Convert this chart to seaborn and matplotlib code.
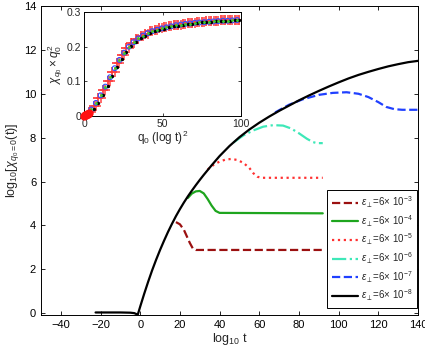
import numpy as np
import matplotlib
matplotlib.use("Agg")
import matplotlib.pyplot as plt
import seaborn as sns

# main panel curves
t_black = [-22.5, -10, -5, -3, -2, -1.2, 0, 2, 4, 6, 8, 10, 12, 14, 16, 18, 20, 22, 24, 26, 28,
           30, 32, 36, 40, 45, 50, 55, 60, 65, 70, 75, 80, 85, 90, 95, 100, 105, 110, 115,
           120, 125, 130, 135, 140]
chi_black = [0.03, 0.03, 0.02, 0.0, -0.04, -0.06, 0.3, 0.88, 1.43, 1.95, 2.43, 2.88, 3.3, 3.7,
             4.07, 4.42, 4.74, 5.04, 5.32, 5.58, 5.83, 6.07, 6.3, 6.74, 7.16, 7.62, 8.02, 8.37,
             8.68, 8.96, 9.22, 9.46, 9.7, 9.92, 10.13, 10.33, 10.52, 10.7, 10.86, 11.0, 11.13,
             11.25, 11.35, 11.44, 11.5]

t_e3 = [18, 20, 22, 23.5, 25, 26.5, 28, 92]
chi_e3 = [4.15, 4.05, 3.8, 3.5, 3.2, 2.95, 2.88, 2.88]

t_e4 = [24, 26, 28, 30, 32, 34, 36, 38, 40, 92]
chi_e4 = [5.25, 5.45, 5.55, 5.57, 5.46, 5.2, 4.9, 4.66, 4.57, 4.55]

t_e5 = [34, 37, 40, 43, 46, 49, 52, 55, 57, 59, 61, 92]
chi_e5 = [6.55, 6.76, 6.91, 7.0, 7.03, 6.98, 6.85, 6.62, 6.38, 6.22, 6.17, 6.17]

t_e6 = [47, 52, 57, 62, 67, 72, 76, 80, 84, 87, 89, 92]
chi_e6 = [7.78, 8.1, 8.33, 8.5, 8.57, 8.55, 8.42, 8.2, 7.95, 7.8, 7.75, 7.75]

t_e7 = [68, 75, 82, 90, 97, 104, 110, 115, 120, 124, 128, 132, 140]
chi_e7 = [9.15, 9.5, 9.75, 9.95, 10.04, 10.07, 10.0, 9.85, 9.62, 9.4, 9.3, 9.27, 9.27]

eps_labels = [r'$\varepsilon_{\perp}$=6$\times$ 10$^{-3}$',
              r'$\varepsilon_{\perp}$=6$\times$ 10$^{-4}$',
              r'$\varepsilon_{\perp}$=6$\times$ 10$^{-5}$',
              r'$\varepsilon_{\perp}$=6$\times$ 10$^{-6}$',
              r'$\varepsilon_{\perp}$=6$\times$ 10$^{-7}$',
              r'$\varepsilon_{\perp}$=6$\times$ 10$^{-8}$']

# inset: collapsed curves
q_a = [0, 3, 6, 9, 12, 15, 18, 21, 24, 27, 30, 33, 36, 39, 42, 45, 48, 51, 54, 57, 60,
       63, 66, 69, 72, 75, 78, 81, 84, 87, 90, 93, 96, 99]
chi_red = [0.0, 0.013, 0.03, 0.051, 0.075, 0.101, 0.128, 0.154, 0.177, 0.196, 0.21, 0.221,
           0.231, 0.238, 0.244, 0.249, 0.253, 0.256, 0.259, 0.262, 0.264, 0.266, 0.268, 0.269,
           0.271, 0.272, 0.273, 0.274, 0.275, 0.276, 0.276, 0.277, 0.278, 0.278]
chi_black_in = [0.0, 0.006, 0.02, 0.039, 0.062, 0.088, 0.115, 0.141, 0.165, 0.186, 0.202,
                0.214, 0.224, 0.232, 0.239, 0.244, 0.249, 0.252, 0.256, 0.259, 0.261, 0.263,
                0.265, 0.267, 0.268, 0.27, 0.271, 0.272, 0.273, 0.274, 0.274, 0.275, 0.276, 0.276]
q_b = [1.5, 4.5, 7.5, 10.5, 13.5, 16.5, 19.5, 22.5, 25.5, 28.5, 31.5, 34.5, 37.5, 40.5, 43.5,
       46.5, 49.5, 52.5, 55.5, 58.5, 61.5, 64.5, 67.5, 70.5, 73.5, 76.5, 79.5, 82.5, 85.5,
       88.5, 91.5, 94.5, 97.5]
chi_blue = [0.005, 0.019, 0.038, 0.06, 0.085, 0.112, 0.138, 0.162, 0.183, 0.2, 0.213, 0.224,
            0.232, 0.239, 0.245, 0.249, 0.253, 0.256, 0.259, 0.262, 0.264, 0.266, 0.267, 0.269,
            0.27, 0.271, 0.272, 0.273, 0.274, 0.275, 0.275, 0.276, 0.277]
q_dot = [0, 0.6, 1.2, 1.8, 2.4, 3.0]
chi_dot = [0.0, 0.002, 0.003, 0.005, 0.007, 0.009]

sns.set_style("ticks")
plt.rcParams['font.family'] = ['Liberation Sans', 'DejaVu Sans']
plt.rcParams['mathtext.fontset'] = 'custom'
plt.rcParams['mathtext.rm'] = 'Liberation Sans'
plt.rcParams['mathtext.it'] = 'Liberation Sans:italic'
plt.rcParams['xtick.direction'] = 'in'
plt.rcParams['ytick.direction'] = 'in'
plt.rcParams['xtick.major.size'] = 3
plt.rcParams['ytick.major.size'] = 3
plt.rcParams['axes.linewidth'] = 0.7

fig = plt.figure(figsize=(4.25, 3.55), dpi=100)
ax = fig.add_axes([0.0965, 0.113, 0.887, 0.870])

lw = 1.6
sns.lineplot(x=t_e3, y=chi_e3, ax=ax, color='#9b1010', linestyle='--', lw=lw, label=eps_labels[0])
sns.lineplot(x=t_e4, y=chi_e4, ax=ax, color='#1ea51e', linestyle='-', lw=lw, label=eps_labels[1])
sns.lineplot(x=t_e5, y=chi_e5, ax=ax, color='#ff3030', linestyle=':', lw=lw, label=eps_labels[2])
sns.lineplot(x=t_e6, y=chi_e6, ax=ax, color='#3ee8b8', linestyle='-.', lw=lw, label=eps_labels[3])
sns.lineplot(x=t_e7, y=chi_e7, ax=ax, color='#2040ff', linestyle='--', lw=lw, label=eps_labels[4])
sns.lineplot(x=t_black, y=chi_black, ax=ax, color='black', linestyle='-', lw=lw, label=eps_labels[5])

ax.set_xlim(-50, 140)
ax.set_ylim(-0.08, 14)
ax.set_xticks(range(-40, 141, 20))
ax.set_yticks(range(0, 15, 2))
ax.tick_params(labelsize=8, top=True, right=True, width=0.6, colors='black')
ax.set_xlabel(r'log$_{10}$ t', fontsize=9, labelpad=1)
ax.set_ylabel(r'log$_{10}$[$\chi_{q_0=0}$(t)]', fontsize=9, labelpad=2)
for s in ax.spines.values():
    s.set_color('black')

leg = ax.legend(loc='lower right', bbox_to_anchor=(0.997, 0.023), fontsize=7,
                frameon=True, fancybox=False, edgecolor='black', framealpha=1,
                handlelength=2.7, handletextpad=0.3, labelspacing=0.32, borderpad=0.45,
                borderaxespad=0)
leg.get_frame().set_linewidth(0.7)

# inset
axi = fig.add_axes([0.198, 0.673, 0.369, 0.293])
sns.scatterplot(x=q_a, y=chi_red, ax=axi, marker='+', s=45, color='#ff2020', linewidth=1.1, zorder=2)
sns.scatterplot(x=q_b, y=chi_red[:-1], ax=axi, marker='+', s=45, color='#ff4040', linewidth=1.1, zorder=2)
sns.scatterplot(x=q_b, y=chi_blue, ax=axi, marker='o', s=12, facecolor='none', edgecolor='#3050ff', linewidth=0.8, zorder=3)
sns.scatterplot(x=q_a, y=chi_black_in, ax=axi, marker='o', s=6, color='black', linewidth=0, zorder=3)
sns.scatterplot(x=q_b, y=chi_blue, ax=axi, marker='o', s=4, color='#30d030', linewidth=0, zorder=4)
sns.scatterplot(x=q_dot, y=chi_dot, ax=axi, marker='o', s=36, color='#ff1010', linewidth=0, zorder=5, clip_on=False)
axi.set_xlim(0, 100)
axi.set_ylim(0, 0.3)
axi.set_xticks([0, 50, 100])
axi.set_yticks([0, 0.1, 0.2, 0.3])
axi.set_yticklabels(['0', '0.1', '0.2', '0.3'])
axi.tick_params(labelsize=7.5, top=True, right=True, width=0.6, length=2.5, pad=2)
axi.set_xlabel(r'q$_0$ (log t)$^2$', fontsize=8.5, labelpad=0)
axi.set_ylabel(r'$\chi_{q_0}\times q_0^2$', fontsize=8.5, labelpad=1)
for s in axi.spines.values():
    s.set_color('black')

fig.savefig('out.png', dpi=100)
